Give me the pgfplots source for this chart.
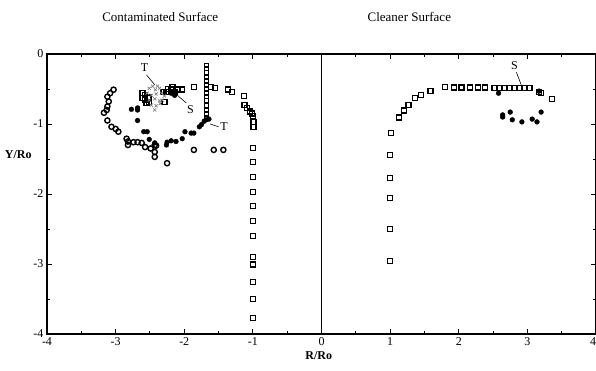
\documentclass[border=0pt]{standalone}
\usepackage{pgfplots}
\pgfplotsset{compat=1.18}
\usepackage{fontspec}
\setmainfont{Liberation Serif}
\begin{document}
\begin{tikzpicture}
\begin{axis}[
  name=ax,
  scale only axis, width=549pt, height=280pt,
  xmin=-4, xmax=4, ymin=-4, ymax=0,
  xtick={-4,-3,-2,-1,0,1,2,3,4},
  xticklabels={-4,-3,-2,-1,0,1,2,3,\makebox[0pt][r]{4}},
  ytick={-4,-3,-2,-1,0},
  yticklabels={-4,-3,-2,-1,0},
  minor tick num=1,
  tick style={black, line width=0.9pt},
  major tick length=5pt, minor tick length=3pt,
  axis line style={line width=1.3pt},
  ticklabel style={font=\fontsize{12}{13}\selectfont},
  clip=false,
]
% vertical divider
\draw[line width=1pt] (axis cs:0,-4) -- (axis cs:0,0);
% left: hollow circles (ring)
\addplot[only marks, mark=o, mark size=2.6pt, line width=1.4pt] coordinates {
(-3.03,-0.51)(-3.08,-0.56)(-3.12,-0.61)(-3.10,-0.68)(-3.12,-0.75)(-3.13,-0.80)(-3.17,-0.84)
(-3.12,-0.95)(-3.06,-1.04)(-3.00,-1.07)(-2.96,-1.11)(-2.84,-1.21)(-2.82,-1.25)(-2.82,-1.30)
(-2.74,-1.26)(-2.68,-1.26)(-2.62,-1.27)(-2.57,-1.33)(-2.49,-1.35)(-2.43,-1.30)(-2.43,-1.40)
(-2.43,-1.47)(-2.41,-1.31)(-2.25,-1.56)(-1.86,-1.37)(-1.57,-1.37)(-1.43,-1.37)
};
% left: hollow squares
\addplot[only marks, mark=square, mark size=2.5pt, line width=1.4pt] coordinates {
(-2.61,-0.56)(-2.57,-0.59)(-2.57,-0.65)(-2.52,-0.62)(-2.55,-0.70)(-2.51,-0.69)(-2.61,-0.63)
(-2.30,-0.54)(-2.26,-0.54)(-2.24,-0.50)(-2.19,-0.51)(-2.17,-0.47)(-2.14,-0.54)(-2.09,-0.51)
(-2.03,-0.51)(-2.29,-0.69)(-1.86,-0.47)
(-1.61,-0.47)(-1.55,-0.49)
(-1.36,-0.51)(-1.30,-0.54)(-1.13,-0.60)(-1.12,-0.73)(-1.09,-0.77)(-1.04,-0.82)(-1.01,-0.85)
(-1.00,-0.89)(-0.99,-0.97)(-0.99,-1.04)
(-1,-1.34)(-1,-1.54)(-1,-1.76)(-1,-1.97)(-1,-2.17)(-1,-2.39)(-1,-2.60)(-1,-2.90)(-1,-3.01)
(-1,-3.26)(-1,-3.50)(-1,-3.77)
};
% left: dense column of small squares
\addplot[only marks, mark=square, mark size=2.0pt, line width=1.2pt] coordinates {
(-1.68,-0.16)(-1.68,-0.21)(-1.68,-0.27)(-1.68,-0.33)(-1.68,-0.39)(-1.68,-0.44)(-1.68,-0.50)
(-1.68,-0.56)(-1.68,-0.61)(-1.68,-0.67)(-1.68,-0.74)(-1.68,-0.80)(-1.68,-0.86)(-1.68,-0.91)
};
% left: filled dots
\addplot[only marks, mark=*, mark size=2.4pt, black] coordinates {
(-2.77,-0.79)(-2.68,-0.77)(-2.68,-0.80)(-2.68,-0.95)(-2.59,-1.11)(-2.54,-1.11)(-2.51,-1.22)
(-2.43,-1.27)(-2.26,-1.30)(-2.25,-1.26)(-2.19,-1.24)(-2.12,-1.25)(-2.03,-1.21)(-1.99,-1.11)
(-1.90,-1.13)(-1.86,-1.13)(-1.78,-1.04)(-1.75,-1.01)(-1.71,-0.96)(-1.68,-0.94)(-1.64,-0.93)
(-2.19,-0.56)(-2.12,-0.54)(-2.14,-0.59)
};
% left: crosses (hatched cluster)
\addplot[only marks, mark=x, mark size=2.2pt, gray, line width=0.7pt] coordinates {
(-2.51,-0.49)(-2.46,-0.46)(-2.42,-0.51)(-2.36,-0.49)(-2.54,-0.56)(-2.48,-0.59)(-2.41,-0.57)
(-2.33,-0.56)(-2.29,-0.60)(-2.51,-0.66)(-2.43,-0.64)(-2.36,-0.67)(-2.32,-0.66)(-2.48,-0.73)
(-2.41,-0.74)(-2.35,-0.71)(-2.43,-0.80)(-2.39,-0.46)
};
% right: hollow squares
\addplot[only marks, mark=square, mark size=2.5pt, line width=1.4pt] coordinates {
(1.0,-1.44)(1.0,-1.77)(1.0,-2.06)(1.0,-2.50)(1.0,-2.96)
(1.01,-1.13)(1.13,-0.91)(1.20,-0.81)(1.27,-0.73)(1.36,-0.63)(1.45,-0.59)(1.59,-0.53)
(1.80,-0.47)(1.93,-0.48)(2.04,-0.48)(2.16,-0.48)(2.28,-0.48)(2.38,-0.48)(2.52,-0.49)
(2.59,-0.49)(2.67,-0.49)(2.74,-0.49)(2.81,-0.49)(2.88,-0.49)(2.96,-0.49)(3.03,-0.49)
(3.17,-0.54)(3.20,-0.56)(3.36,-0.64)
};
% right: filled dots
\addplot[only marks, mark=*, mark size=2.4pt, black] coordinates {
(2.58,-0.56)(2.64,-0.87)(2.64,-0.90)(2.75,-0.83)(2.78,-0.94)(2.92,-0.97)(3.07,-0.93)
(3.14,-0.97)(3.20,-0.83)(3.17,-0.53)
};
% annotations
\draw[line width=0.6pt] (axis cs:-2.55,-0.30) -- (axis cs:-2.43,-0.44);
\node[font=\fontsize{12}{13}\selectfont] at (axis cs:-2.58,-0.20) {T};
\draw[line width=0.6pt] (axis cs:-2.10,-0.59) -- (axis cs:-1.97,-0.70);
\node[font=\fontsize{12}{13}\selectfont] at (axis cs:-1.91,-0.79) {S};
\draw[line width=0.6pt] (axis cs:-1.62,-1.00) -- (axis cs:-1.50,-1.04);
\node[font=\fontsize{12}{13}\selectfont] at (axis cs:-1.42,-1.04) {T};
\draw[line width=0.6pt] (axis cs:2.84,-0.26) -- (axis cs:2.91,-0.44);
\node[font=\fontsize{12}{13}\selectfont] at (axis cs:2.81,-0.17) {S};
% titles
\node[font=\fontsize{13}{14}\selectfont] at (axis cs:-2.35,0.53) {Contaminated Surface};
\node[font=\fontsize{13}{14}\selectfont] at (axis cs:1.28,0.53) {Cleaner Surface};
% axis labels
\node[font=\bfseries\fontsize{12}{13}\selectfont] at (axis cs:-4.42,-1.44) {Y/Ro};
\node[font=\bfseries\fontsize{12}{13}\selectfont] at (axis cs:-0.04,-4.31) {R/Ro};
\end{axis}
\pgfresetboundingbox
\path[use as bounding box] ([shift={(-47pt,-37pt)}]ax.south west) rectangle ([shift={(549pt,334pt)}]ax.south west);
\end{tikzpicture}
\end{document}
